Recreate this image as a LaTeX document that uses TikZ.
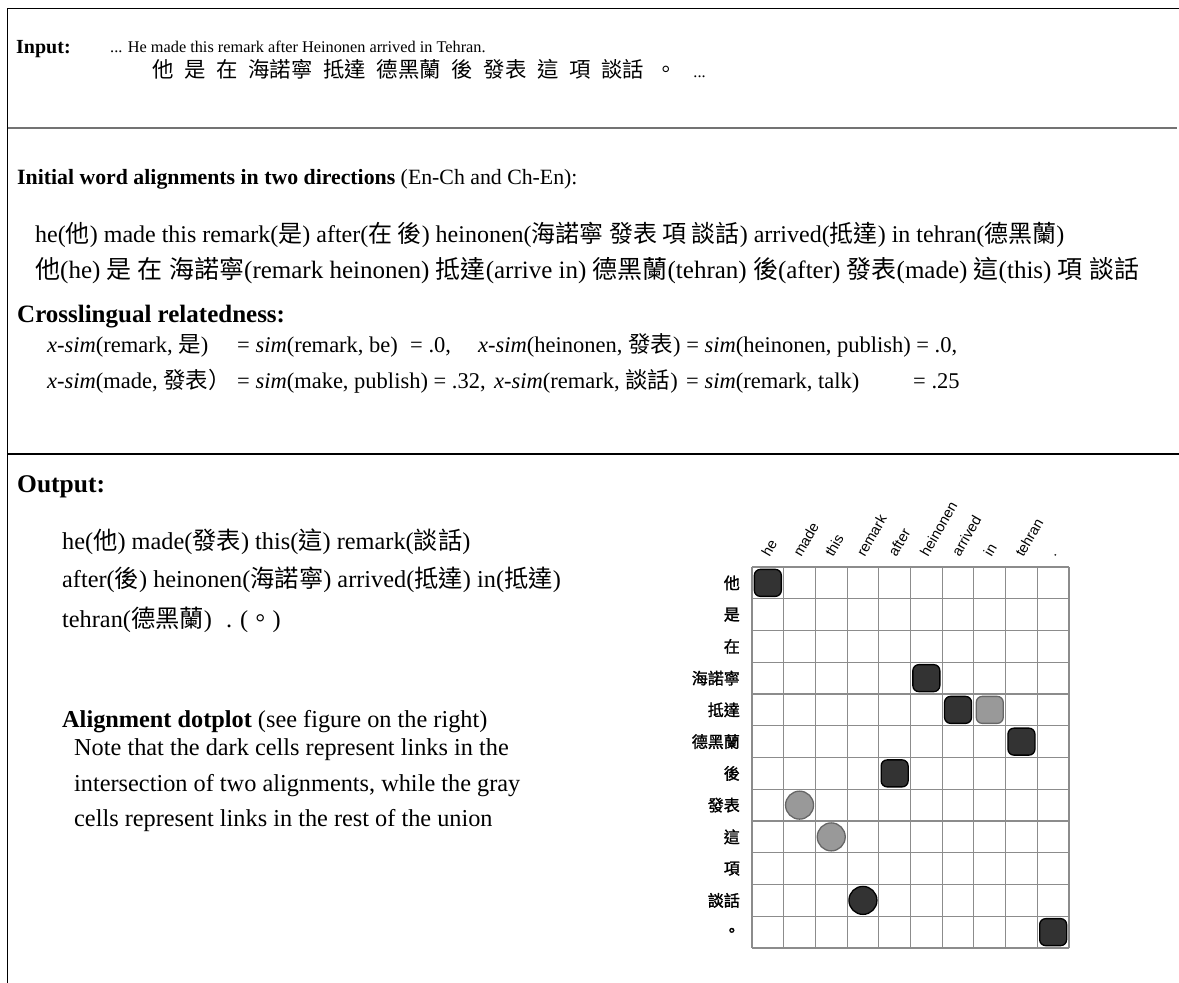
\documentclass[tikz,border=0pt]{standalone}
\usepackage{fontspec}
\setmainfont{Liberation Serif}
\newfontfamily\cjk{Noto Sans CJK TC}
\newfontfamily\cjkd{Noto Sans CJK TC}[FakeBold=1.5]
\newfontfamily\dsans{Liberation Sans}
\newcommand\zhx[1]{{\cjk #1}}
\newcommand\fs[1]{\fontsize{#1}{#1}\selectfont}
\tikzset{
  txt/.style={anchor=base west, inner sep=0pt},
  frameline/.style={line width=1.5pt, black},
  sepgray/.style={line width=2.5pt, black!55},
  gridline/.style={line width=1.1pt, black!45},
  darksq/.style={draw=black, fill=black!80, line width=1.3pt, rounded corners=6pt, minimum size=27pt, inner sep=0pt},
  graysq/.style={draw=black!60, fill=black!40, line width=1.3pt, rounded corners=6pt, minimum size=27pt, inner sep=0pt},
  darkcirc/.style={circle, draw=black, fill=black!80, line width=1.3pt, minimum size=28pt, inner sep=0pt},
  graycirc/.style={circle, draw=black!60, fill=black!40, line width=1.3pt, minimum size=28pt, inner sep=0pt},
  collab/.style={anchor=south west, rotate=60, inner sep=0pt, font=\dsans\fs{14.5}},
  rowlab/.style={anchor=east, inner sep=0pt, font=\cjkd\fs{16}},
  simtxt/.style={txt, font=\fs{22.5}},
  bodytxt/.style={txt, font=\fs{24.3}},
}
\begin{document}
\begin{tikzpicture}[x=1pt,y=-1pt]
\useasboundingbox (0,0) rectangle (1179,983);
% frame
\coordinate (tl) at (7.5,8.5);
\coordinate (tr) at (1179,8.5);
\coordinate (bl) at (7.5,983);
\draw[frameline] (tr) -- (tl) -- (bl);
\coordinate (s1a) at (7.5,128);
\coordinate (s1b) at (1177,128);
\draw[sepgray] (s1a) -- (s1b);
\coordinate (s2a) at (7.5,454);
\coordinate (s2b) at (1179,454);
\draw[frameline] (s2a) -- (s2b);

% Input
\node[txt, font=\bfseries\fs{20}] (inlab) at (16,53) {Input:};
\node[txt, font=\fs{16.3}] (inen) at (110,52) {... He made this remark after Heinonen arrived in Tehran.};
\node[txt, font=\fs{16.3}] (inzh) at (152,77) {\cjk\fs{21.4}他\hspace{10.7pt}是\hspace{10.7pt}在\hspace{10.7pt}海諾寧\hspace{10.7pt}抵達\hspace{10.7pt}德黑蘭\hspace{10.7pt}後\hspace{10.7pt}發表\hspace{10.7pt}這\hspace{10.7pt}項\hspace{10.7pt}談話\hspace{10.7pt}。\hspace{17pt}{\rmfamily\fs{16.3}...}};

% Initial alignments
\node[txt, font=\fs{21.8}] (inithead) at (17,184) {\textbf{Initial word alignments in two directions} (En-Ch and Ch-En):};
\node[txt, font=\fs{24}] (al1) at (35,242) {he(\zhx{他}) made this remark(\zhx{是}) after(\zhx{在 後}) heinonen(\zhx{海諾寧 發表 項 談話}) arrived(\zhx{抵達}) in tehran(\zhx{德黑蘭})};
\node[txt, font=\fs{25}] (al2) at (35,278) {\zhx{他}(he) \zhx{是} \zhx{在} \zhx{海諾寧}(remark heinonen) \zhx{抵達}(arrive in) \zhx{德黑蘭}(tehran) \zhx{後}(after) \zhx{發表}(made) \zhx{這}(this) \zhx{項} \zhx{談話}};

% Crosslingual
\node[txt, font=\bfseries\fs{25}] (crosshead) at (17,322) {Crosslingual relatedness:};
\node[simtxt] (xa1) at (47,352) {\textit{x-sim}(remark, \zhx{是})};
\node[simtxt] (xa2) at (237,352) {= \textit{sim}(remark, be)};
\node[simtxt] (xa3) at (410,352) {= .0,};
\node[simtxt] (xa4) at (478,352) {\textit{x-sim}(heinonen, \zhx{發表}) = \textit{sim}(heinonen, publish) = .0,};
\node[simtxt] (xb1) at (47,388) {\textit{x-sim}(made, \zhx{發表）}};
\node[simtxt] (xb2) at (237,388) {= \textit{sim}(make, publish) = .32,};
\node[simtxt] (xb3) at (494,388) {\textit{x-sim}(remark, \zhx{談話})};
\node[simtxt] (xb4) at (686,388) {= \textit{sim}(remark, talk)};
\node[simtxt] (xb5) at (913,388) {= .25};

% Output
\node[txt, font=\bfseries\fs{25.5}] (outhead) at (17,492) {Output:};
\node[bodytxt] (o1) at (62,549) {he(\zhx{他}) made(\zhx{發表}) this(\zhx{這}) remark(\zhx{談話})};
\node[bodytxt] (o2) at (62,587) {after(\zhx{後}) heinonen(\zhx{海諾寧}) arrived(\zhx{抵達}) in(\zhx{抵達})};
\node[bodytxt] (o3) at (62,627) {tehran(\zhx{德黑蘭})\hspace{8pt} . (\zhx{。})};
\node[bodytxt] (dphead) at (62,727) {\textbf{Alignment dotplot} (see figure on the right)};
\node[bodytxt] (n1) at (74,755) {Note that the dark cells represent links in the};
\node[bodytxt] (n2) at (74,791) {intersection of two alignments, while the gray};
\node[bodytxt] (n3) at (74,826) {cells represent links in the rest of the union};

% Dotplot grid
\def\gx{752}\def\gy{567}\def\cw{31.7}\def\rh{31.75}
\foreach \i in {0,...,10} {
  \draw[gridline] ({\gx+\i*\cw},\gy) -- ({\gx+\i*\cw},{\gy+12*\rh});
}
\foreach \j in {0,...,12} {
  \draw[gridline] (\gx,{\gy+\j*\rh}) -- ({\gx+10*\cw},{\gy+\j*\rh});
}
% column labels
\foreach \w [count=\c] in {he,made,this,remark,after,heinonen,arrived,in,tehran,.} {
  \node[collab] (col\c) at ({\gx+(\c-0.5)*\cw+2},{\gy-9}) {\w};
}
% row labels
\foreach \w [count=\r] in {他,是,在,海諾寧,抵達,德黑蘭,後,發表,這,項,談話,。} {
  \node[rowlab] (row\r) at ({\gx-12},{\gy+(\r-0.5)*\rh}) {\w};
}
% marks
\newcommand\cellat[2]{({\gx+(#2-0.5)*\cw},{\gy+(#1-0.5)*\rh})}
\node[darksq] (m11) at \cellat{1}{1} {};
\node[darksq] (m46) at \cellat{4}{6} {};
\node[darksq] (m57) at \cellat{5}{7} {};
\node[graysq] (m58) at \cellat{5}{8} {};
\node[darksq] (m69) at \cellat{6}{9} {};
\node[darksq] (m75) at \cellat{7}{5} {};
\node[graycirc] (m82) at \cellat{8}{2} {};
\node[graycirc] (m93) at \cellat{9}{3} {};
\node[darkcirc] (m114) at \cellat{11}{4} {};
\node[darksq] (m1210) at \cellat{12}{10} {};
\end{tikzpicture}
\end{document}
